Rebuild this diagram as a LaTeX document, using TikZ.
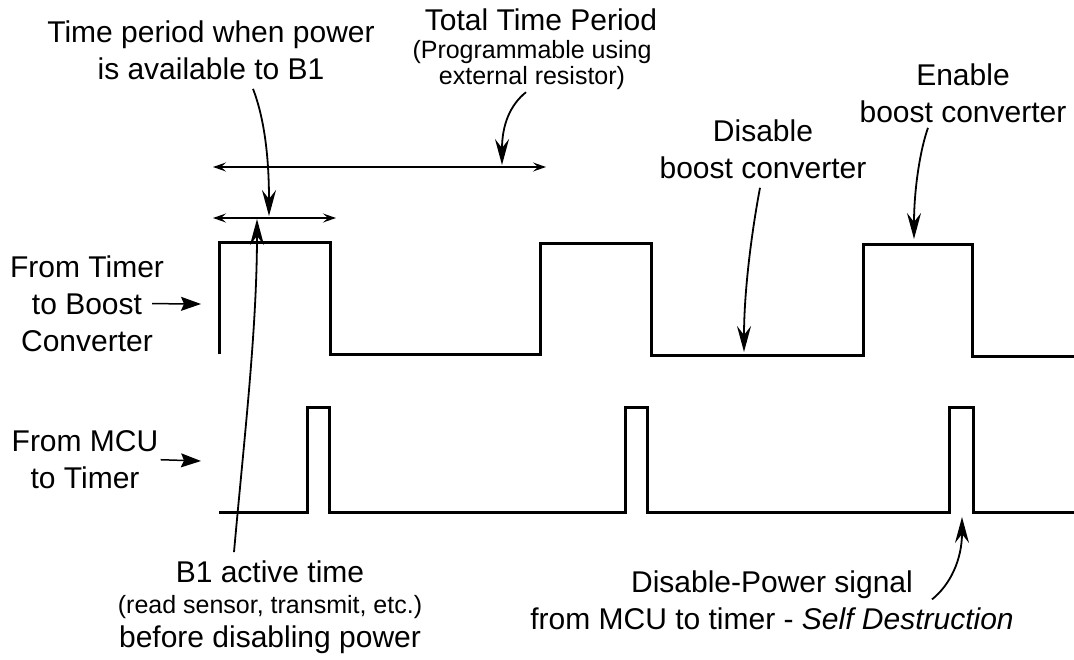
\documentclass[tikz,border=0pt]{standalone}
\usepackage{fontspec}
\setmainfont{Liberation Sans}
\usetikzlibrary{arrows.meta, positioning, calc}

\begin{document}
\begin{tikzpicture}[
  x=1pt, y=-1pt,
  txt/.style={font=\fontsize{30}{37}\selectfont, align=center, inner sep=0pt},
  subtxt/.style={font=\fontsize{25}{26}\selectfont, align=center, inner sep=0pt},
  wave/.style={line width=3pt, line join=miter},
  arr/.style={-{Stealth[length=26pt, width=14pt, inset=9pt]}, line width=1.8pt},
  dim/.style={{Stealth[length=13pt, width=9pt, inset=5pt]}-{Stealth[length=13pt, width=9pt, inset=5pt]}, line width=1.5pt},
  sig/.style={-{Stealth[length=20pt, width=14pt, inset=3pt]}, line width=1.5pt}
]
\useasboundingbox (0,0) rectangle (1074,659);

% ===== Waveforms =====
\draw[wave] (219,354) -- (219,242) -- (330,242) -- (330,354) -- (540,354)
  -- (540,243) -- (651,243) -- (651,355) -- (863,355) -- (863,244)
  -- (972,244) -- (972,356) -- (1074,356);
\draw[wave] (219,512) -- (307,512) -- (307,407) -- (329,407) -- (329,512)
  -- (625,512) -- (625,407) -- (647,407) -- (647,512) -- (949,512)
  -- (949,407) -- (973,407) -- (973,512) -- (1074,512);

% ===== Signal labels (left) =====
\node[txt, anchor=north] (tmrlbl) at (87,255.4) {From Timer\\to Boost\\Converter};
\node[txt, anchor=north] (mculbl) at (85,430.4) {From MCU\\to Timer};
\coordinate (tmrin) at (201,304);
\coordinate (mcuin) at (201,461);
\draw[sig] ($(tmrlbl.east)+(-12,0)$) -- (tmrin);
\draw[sig] ($(mculbl.east)+(2,0)$) -- (mcuin);

% ===== Period markers =====
\coordinate (totl) at (213,167);
\coordinate (totr) at (546,167);
\coordinate (pwrl) at (213,218);
\coordinate (pwrr) at (336,218);
\draw[dim] (totl) -- (totr);
\draw[dim] (pwrl) -- (pwrr);

% ===== Top annotations =====
\node[txt, anchor=north] (pwrlbl) at (211,20.4) {Time period when power\\is available to B1};
\node[txt, anchor=base] (totlbl) at (541,30) {Total Time Period};
\node[subtxt, below=10pt of totlbl, xshift=-9pt] (totsub) {(Programmable using\\external resistor)};
\node[txt, anchor=north] (offlbl) at (763,119.4) {Disable\\boost converter};
\node[txt, anchor=north] (onlbl) at (963,63.4) {Enable\\boost converter};

\coordinate (pwrtip) at (269,216);
\coordinate (tottip) at (502,165);
\coordinate (offtip) at (744,352);
\coordinate (ontip) at (914,239);
\draw[arr] ($(pwrlbl.south)+(42,9)$) .. controls (265,120) and (269,160) .. (pwrtip);
\draw[arr] ($(totsub.south)+(-6,2)$) .. controls (510,105) and (502,125) .. (tottip);
\draw[arr] ($(offlbl.south)+(-3,9)$) .. controls (752,230) and (744,290) .. (offtip);
\draw[arr] ($(onlbl.south)+(-35,5)$) .. controls (920,150) and (914,190) .. (ontip);

% ===== Bottom annotations =====
\node[txt, anchor=base] (actlbl) at (270,582) {B1 active time};
\node[subtxt, anchor=base] (actsub) at (270,613) {(read sensor, transmit, etc.)};
\node[txt, anchor=base] (actend) at (270,647) {before disabling power};
\node[txt, anchor=north] (offsig) at (772,570.4) {Disable-Power signal\\from MCU to timer - \textit{Self Destruction}};

\coordinate (acttip) at (257,219);
\coordinate (sigtip) at (962,517);
\draw[arr] ($(actlbl.north)+(-36,-8)$) .. controls (244,440) and (257,330) .. (acttip);
\draw[arr] ($(offsig.north)+(160,29)$) .. controls (950,585) and (962,560) .. (sigtip);

\end{tikzpicture}
\end{document}
